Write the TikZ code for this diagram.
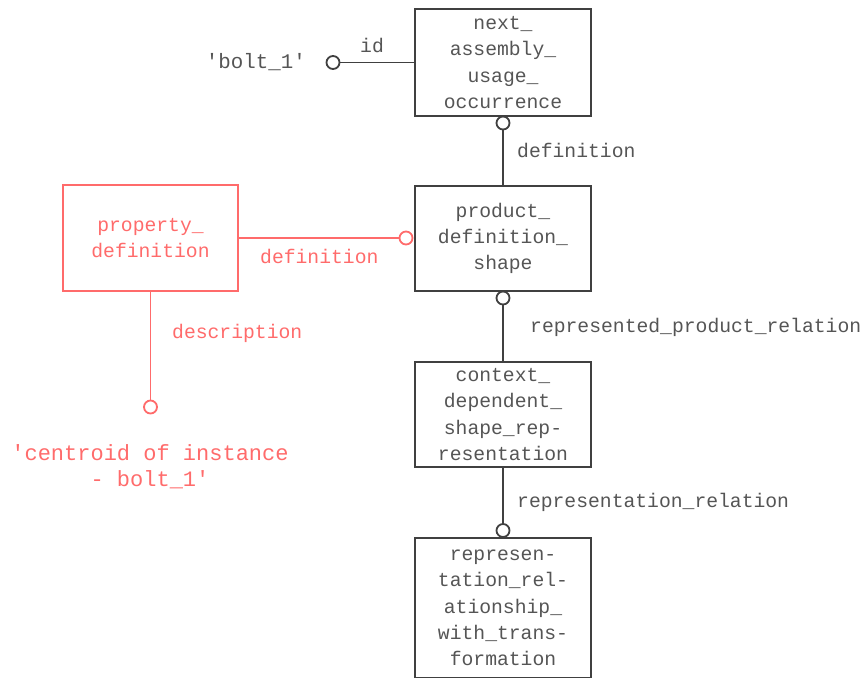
\documentclass[tikz,border=0pt]{standalone}
\usepackage{fontspec}
\newfontfamily\monof{Liberation Mono}
\definecolor{boxc}{HTML}{404040}
\definecolor{txtc}{HTML}{555555}
\definecolor{redc}{HTML}{FF6B6B}
\tikzset{
  ent/.style={draw=boxc, line width=1.8pt, text=txtc, align=center, minimum width=176pt, inner sep=0pt, font=\monof\fontsize{19.7}{26.3}\selectfont},
  rent/.style={ent, draw=redc, text=redc},
  circ/.style={circle, draw=boxc, line width=1.8pt, fill=white, minimum size=13pt, inner sep=0pt},
  rcirc/.style={circ, draw=redc},
  lbl/.style={text=txtc, inner sep=0pt, font=\monof\fontsize{19.7}{26.3}\selectfont},
  rlbl/.style={lbl, text=redc, align=center},
  conn/.style={draw=boxc, line width=1.8pt},
  rconn/.style={draw=redc, line width=1.8pt}
}
\begin{document}
\begin{tikzpicture}[x=1pt,y=-1pt]
\useasboundingbox (0,0) rectangle (864,677);
\clip (0,0) rectangle (864,677);
% entities
\node[ent, minimum height=107pt] (nauo) at (503,62.5) {next\_\\assembly\_\\usage\_\\occurrence};
\node[ent, minimum height=105pt] (pds) at (503,238.5) {product\_\\definition\_\\shape};
\node[ent, minimum height=105pt] (cdsr) at (503,414.5) {context\_\\dependent\_\\shape\_rep-\\resentation};
\node[ent, minimum height=140pt] (rrwt) at (503,608) {represen-\\tation\_rel-\\ationship\_\\with\_trans-\\formation};
\node[rent, minimum width=175pt, minimum height=106pt] (pd) at (150.5,238) {property\_\\definition};
% circles
\node[circ] (c1) at (503,123) {};
\node[circ] (c2) at (503,298) {};
\node[circ] (c3) at (503,530.5) {};
\node[circ] (cb) at (333,62.5) {};
\node[rcirc] (rc1) at (406,238) {};
\node[rcirc] (rc2) at (150.5,407) {};
% connectors
\draw[conn] (cb) -- (nauo.west);
\draw[conn] (c1) -- (pds.north);
\draw[conn] (c2) -- (cdsr.north);
\draw[conn] (cdsr.south) -- (c3);
\draw[rconn] (pd.east) -- (rc1);
\draw[rconn] (pd.south) -- (rc2);
% labels
\node[lbl, anchor=east, font=\monof\fontsize{20.8}{26.3}\selectfont] (lb1) at (306,62) {'bolt\_1'};
\node[lbl] (lid) at (372,45) {id};
\node[lbl, anchor=west] (ldef) at (517,150) {definition};
\node[lbl, anchor=west] (lrpr) at (530,327) {represented\_product\_relation};
\node[lbl, anchor=west] (lrr) at (517,502) {representation\_relation};
\node[rlbl, anchor=west] (rdef) at (260,256) {definition};
\node[rlbl, anchor=west] (rdesc) at (172,333) {description};
\node[rlbl, font=\monof\fontsize{22}{25.5}\selectfont] (rcent) at (150,466.5) {'centroid of instance\\- bolt\_1'};
\end{tikzpicture}
\end{document}
